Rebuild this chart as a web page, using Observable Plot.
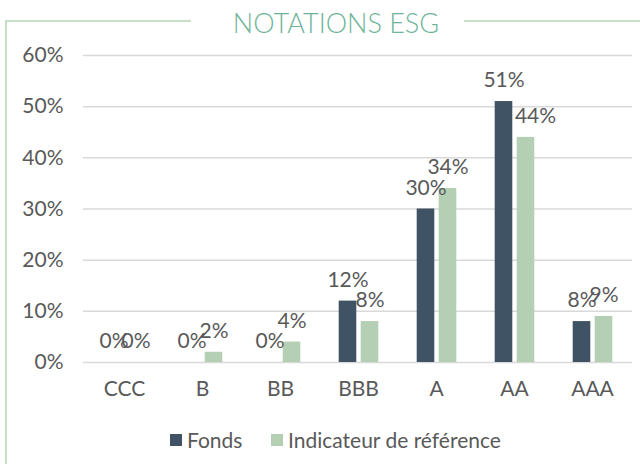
<!DOCTYPE html>
<html>
<head>
<meta charset="utf-8">
<script src="https://cdn.jsdelivr.net/npm/d3@7"></script>
<script src="https://cdn.jsdelivr.net/npm/@observablehq/plot@0.6"></script>
<style>
  html, body { margin: 0; padding: 0; background: #fff; }
  #wrap { position: relative; width: 640px; height: 464px; overflow: hidden; font-family: Lato, sans-serif; }
  .line { position: absolute; background: #c6e0c6; }
  #title { position: absolute; left: 0; width: 672px; top: 9px; text-align: center; font-size: 27px; font-weight: 300; color: #6fb499; line-height: 27px; white-space: nowrap; }
  #chart { position: absolute; left: 0; top: 40px; }
  .sw { position: absolute; width: 12px; height: 12px; top: 434px; }
  .lt { position: absolute; top: 428px; font-size: 21px; line-height: 24px; color: #595959; white-space: nowrap; }
</style>
</head>
<body>
<div id="wrap">
  <div class="line" style="left:5px; top:20px; width:1.5px; height:444px;"></div>
  <div class="line" style="left:5px; top:20px; width:186px; height:1.5px;"></div>
  <div class="line" style="left:464px; top:20px; width:176px; height:1.5px;"></div>
  <div id="title">NOTATIONS ESG</div>
  <div id="chart"></div>
  <div id="legend"></div>
</div>
<script>
const categories = ["CCC", "B", "BB", "BBB", "A", "AA", "AAA"];
const fondsValues = [0, 0, 0, 12, 30, 51, 8];
const indicateurValues = [0, 2, 4, 8, 34, 44, 9];
const seriesNames = ["Fonds", "Indicateur de référence"];
const seriesColors = ["#405364", "#b4cfb4"];
const yTicks = [0, 10, 20, 30, 40, 50, 60];

const fondsRows = categories.map((c, i) => ({cat: c, value: fondsValues[i]}));
const indicRows = categories.map((c, i) => ({cat: c, value: indicateurValues[i]}));
const pct = d => d.value + "%";

const chart = Plot.plot({
  width: 640,
  height: 370,
  marginTop: 15,
  marginBottom: 48,
  marginLeft: 83,
  marginRight: 8,
  style: {fontFamily: "Lato, sans-serif", fontSize: "21px", color: "#595959", background: "transparent"},
  x: {domain: categories, padding: 0, label: null, tickSize: 0, tickPadding: 19},
  y: {domain: [0, 60], ticks: yTicks, tickFormat: d => d + "%", label: null, tickSize: 0, tickPadding: 20},
  marks: [
    Plot.ruleY(yTicks, {stroke: "#d9d9d9", strokeWidth: 1.5}),
    Plot.barY(fondsRows, {x: "cat", y: "value", fill: seriesColors[0], insetLeft: 19.7, insetRight: 40.7}),
    Plot.barY(indicRows, {x: "cat", y: "value", fill: seriesColors[1], insetLeft: 41.7, insetRight: 18.7}),
    Plot.text(fondsRows, {x: "cat", y: "value", text: pct, dx: -10.5, dy: -21, fill: "#595959", fontSize: 21}),
    Plot.text(indicRows.filter(d => d.cat !== "AA"), {x: "cat", y: "value", text: pct, dx: 11.5, dy: -21, fill: "#595959", fontSize: 21}),
    Plot.text(indicRows.filter(d => d.cat === "AA"), {x: "cat", y: "value", text: pct, dx: 21, dy: -21, fill: "#595959", fontSize: 21})
  ]
});
document.getElementById("chart").appendChild(chart);

const legend = document.getElementById("legend");
const legendPos = [[170, 187], [271, 288]];
seriesNames.forEach((name, i) => {
  const sw = document.createElement("div");
  sw.className = "sw";
  sw.style.left = legendPos[i][0] + "px";
  sw.style.background = seriesColors[i];
  legend.appendChild(sw);
  const t = document.createElement("div");
  t.className = "lt";
  t.style.left = legendPos[i][1] + "px";
  t.textContent = name;
  legend.appendChild(t);
});
</script>
</body>
</html>
